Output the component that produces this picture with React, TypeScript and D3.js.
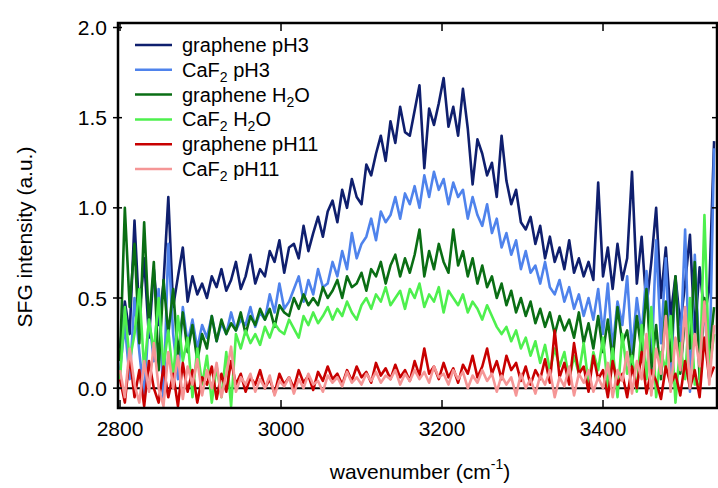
import React from "react";
import * as d3 from "d3";

// Wavenumber grid of the recorded spectra (cm^-1)
const WAVENUMBERS: number[] = d3.range(2800, 3542, 6);

const GRAPHENE_PH3 = [
  0.22, 0.48, 0.30, 0.93, 0.40, 0.72, 0.28, 0.66, 0.35, 0.58,
  1.06, 0.45, 0.62, 0.78, 0.48, 0.62, 0.52, 0.58, 0.50, 0.62,
  0.56, 0.66, 0.54, 0.60, 0.70, 0.55, 0.62, 0.74, 0.58, 0.66,
  0.62, 0.76, 0.70, 0.82, 0.64, 0.78, 0.80, 0.72, 0.90, 0.76,
  0.86, 0.95, 0.84, 0.98, 1.04, 0.92, 1.10, 1.00, 1.16, 1.06,
  1.02, 1.24, 1.18, 1.30, 1.40, 1.26, 1.48, 1.36, 1.56, 1.42,
  1.40, 1.54, 1.68, 1.22, 1.55, 1.46, 1.58, 1.72, 1.45, 1.56,
  1.40, 1.66, 1.44, 1.13, 1.38, 1.30, 1.18, 1.25, 1.06, 1.40,
  1.15, 1.02, 1.10, 0.92, 0.88, 0.95, 0.80, 0.90, 0.72, 0.84,
  0.70, 0.78, 0.66, 0.82, 0.64, 0.72, 0.62, 0.70, 0.60, 1.14,
  0.62, 0.78, 0.55, 0.80, 0.60, 0.72, 1.20, 0.58, 0.84, 0.45,
  0.70, 1.00, 0.50, 0.78, 0.40, 0.62, 0.35, 0.58, 0.85, 0.30,
  0.67, 0.40, 0.55, 1.37,
];

const CAF2_PH3 = [
  0.10, 0.35, 0.05, 0.50, 0.20, -0.05, 0.40, 0.15, 0.55, -0.08,
  0.80, 0.30, 0.05, 0.45, 0.25, 0.38, 0.22, 0.35, 0.28, 0.40,
  0.26, 0.36, 0.30, 0.42, 0.32, 0.38, 0.35, 0.45, 0.34, 0.42,
  0.38, 0.52, 0.42, 0.58, 0.44, 0.48, 0.55, 0.62, 0.48, 0.60,
  0.52, 0.66, 0.56, 0.58, 0.70, 0.62, 0.76, 0.66, 0.86, 0.72,
  0.80, 0.84, 0.94, 0.82, 0.98, 0.92, 0.96, 1.06, 0.94, 1.08,
  1.02, 1.12, 1.00, 1.18, 1.06, 1.20, 1.10, 1.16, 1.02, 1.14,
  1.06, 1.10, 0.94, 1.06, 0.96, 0.90, 1.02, 0.86, 0.94, 0.78,
  0.86, 0.74, 0.82, 0.66, 0.76, 0.64, 0.68, 0.58, 0.70, 0.56,
  0.52, 0.60, 0.48, 0.56, 0.44, 0.52, 0.40, 0.50, 0.38, 0.55,
  0.30, 0.58, 0.22, 0.48, 0.35, 0.62, 0.20, 0.50, 0.30, 0.65,
  0.10, 0.82, 0.25, 0.72, 0.05, 0.60, 0.20, 0.88, -0.02, 0.74,
  0.15, 0.45, 0.05, 1.33,
];

const GRAPHENE_H2O = [
  0.15, 1.00, 0.45, 0.80, 0.25, 0.92, 0.35, 0.70, 0.10, 0.60,
  0.30, 0.55, 0.18, 0.42, 0.20, 0.35, 0.15, 0.30, 0.22, 0.40,
  0.26, 0.38, 0.30, 0.36, 0.32, 0.42, 0.30, 0.40, 0.35, 0.44,
  0.38, 0.44, 0.34, 0.46, 0.42, 0.40, 0.50, 0.44, 0.52, 0.46,
  0.50, 0.46, 0.56, 0.50, 0.54, 0.60, 0.50, 0.62, 0.56, 0.58,
  0.64, 0.54, 0.66, 0.62, 0.70, 0.58, 0.68, 0.74, 0.62, 0.72,
  0.64, 0.74, 0.88, 0.62, 0.76, 0.66, 0.80, 0.70, 0.64, 0.88,
  0.68, 0.76, 0.62, 0.72, 0.58, 0.68, 0.56, 0.62, 0.50, 0.58,
  0.46, 0.54, 0.42, 0.50, 0.40, 0.48, 0.36, 0.44, 0.34, 0.42,
  0.30, 0.40, 0.32, 0.38, 0.28, 0.42, 0.25, 0.36, 0.22, 0.40,
  0.20, 0.38, 0.15, 0.45, 0.25, 0.32, 0.12, 0.40, 0.20, 0.55,
  0.10, 0.35, 0.05, 0.48, 0.15, 0.62, 0.08, 0.40, 0.22, 0.70,
  0.05, 0.50, 0.18, 0.45,
];

const CAF2_H2O = [
  0.05, 0.45, 0.15, 0.30, 0.55, 0.10, 0.38, 0.20, 0.50, 0.12,
  0.32, 0.05, 0.40, 0.15, 0.28, -0.05, 0.22, 0.02, 0.18, -0.08,
  0.12, -0.05, 0.20, -0.10, 0.30, 0.22, 0.32, 0.25, 0.30, 0.24,
  0.34, 0.28, 0.36, 0.32, 0.30, 0.38, 0.33, 0.28, 0.40, 0.35,
  0.42, 0.36, 0.40, 0.45, 0.38, 0.44, 0.40, 0.48, 0.42, 0.38,
  0.46, 0.50, 0.44, 0.52, 0.48, 0.56, 0.46, 0.50, 0.54, 0.44,
  0.55, 0.50, 0.58, 0.45, 0.52, 0.48, 0.56, 0.42, 0.54, 0.50,
  0.46, 0.52, 0.42, 0.48, 0.44, 0.38, 0.46, 0.40, 0.34, 0.30,
  0.34, 0.26, 0.32, 0.22, 0.28, 0.18, 0.26, 0.14, 0.24, 0.10,
  0.22, 0.12, 0.20, 0.05, 0.18, 0.08, 0.25, 0.02, 0.20, 0.10,
  0.28, 0.00, 0.22, -0.05, 0.30, 0.08, 0.18, -0.02, 0.35, 0.05,
  0.45, -0.05, 0.20, 0.10, 0.40, -0.08, 0.25, 0.05, 0.50, 0.02,
  0.02, 0.96, 0.10, 0.30,
];

const GRAPHENE_PH11 = [
  0.05, -0.08, 0.18, -0.05, 0.10, -0.10, 0.15, 0.00, -0.08, 0.12,
  -0.05, 0.08, -0.10, 0.14, -0.02, 0.10, -0.08, 0.06, 0.02, 0.12,
  -0.06, 0.08, -0.02, 0.15, 0.02, 0.08, -0.02, 0.06, 0.02, 0.10,
  0.00, 0.05, -0.03, 0.08, 0.02, 0.06, 0.00, 0.10, 0.03, 0.07,
  -0.01, 0.09, 0.04, 0.12, 0.05, 0.08, 0.02, 0.10, 0.04, 0.12,
  0.06, 0.09, 0.03, 0.14, 0.07, 0.11, 0.05, 0.13, 0.06, 0.10,
  0.04, 0.15, 0.07, 0.22, 0.08, 0.12, 0.05, 0.14, 0.06, 0.11,
  0.03, 0.13, 0.08, 0.18, 0.06, 0.12, 0.22, 0.08, 0.15, 0.05,
  0.18, 0.10, 0.14, 0.04, 0.12, 0.02, 0.10, 0.05, 0.16, 0.03,
  0.32, 0.06, 0.14, 0.02, 0.25, 0.08, 0.12, -0.02, 0.18, 0.05,
  0.10, -0.05, 0.15, 0.02, 0.08, -0.05, 0.12, 0.00, 0.20, -0.03,
  0.10, 0.04, -0.06, 0.12, 0.02, 0.08, -0.04, 0.15, 0.00, 0.10,
  -0.05, 0.28, 0.05, 0.12,
];

const CAF2_PH11 = [
  0.10, -0.05, 0.22, 0.02, -0.08, 0.15, -0.02, 0.25, 0.00, -0.10,
  0.20, 0.00, 0.18, -0.06, 0.12, 0.02, 0.16, -0.04, 0.10, 0.00,
  0.14, -0.05, 0.08, 0.23, -0.02, 0.06, 0.02, 0.08, -0.02, 0.05,
  0.00, 0.07, -0.04, 0.04, 0.01, 0.06, -0.03, 0.05, 0.00, 0.08,
  0.02, 0.04, -0.02, 0.07, 0.03, 0.06, 0.01, 0.09, 0.03, 0.06,
  0.02, 0.08, 0.04, 0.09, 0.03, 0.07, 0.05, 0.10, 0.02, 0.08,
  0.04, 0.10, 0.05, 0.09, 0.03, 0.12, 0.06, 0.08, 0.02, 0.10,
  0.05, 0.09, 0.00, 0.07, 0.03, 0.10, 0.04, 0.08, -0.02, 0.07,
  0.02, 0.06, -0.04, 0.08, 0.00, 0.05, -0.03, 0.07, 0.02, 0.10,
  -0.05, 0.06, 0.01, 0.12, -0.04, 0.08, 0.03, 0.10, -0.02, 0.06,
  0.00, 0.14, -0.05, 0.10, 0.04, 0.20, -0.03, 0.15, 0.05, 0.30,
  -0.04, 0.22, 0.08, 0.40, -0.02, 0.28, 0.10, 0.45, 0.00, 0.30,
  0.12, 0.48, 0.02, 0.35,
];

const X_TICKS = [2800, 3000, 3200, 3400];
const Y_TICKS = [0, 0.5, 1.0, 1.5, 2.0];

// Legend entries alternate plain text and subscripts
const SERIES = [
  { parts: ["graphene pH3"], color: "#0f1f6e", values: GRAPHENE_PH3 },
  { parts: ["CaF", "2", " pH3"], color: "#4f83ec", values: CAF2_PH3 },
  { parts: ["graphene H", "2", "O"], color: "#0a6e14", values: GRAPHENE_H2O },
  { parts: ["CaF", "2", " H", "2", "O"], color: "#4ef04e", values: CAF2_H2O },
  { parts: ["graphene pH11"], color: "#c80000", values: GRAPHENE_PH11 },
  { parts: ["CaF", "2", " pH11"], color: "#f59696", values: CAF2_PH11 },
];

const W = 718;
const H = 488;
const LEFT = 118;
const RIGHT = 717;
const TOP = 23;
const BOTTOM = 408;
const FONT = "'Liberation Sans', Arial, Helvetica, sans-serif";

export default function App() {
  const x = d3.scaleLinear().domain([2797.5, 3541.6]).range([LEFT, RIGHT]);
  const y = d3.scaleLinear().domain([-0.11, 2.025]).range([BOTTOM, TOP]);

  const line = d3
    .line<number>()
    .x((_, i) => x(WAVENUMBERS[i]))
    .y((d) => y(d));

  const renderLabel = (parts: string[]) =>
    parts.map((p, k) =>
      k % 2 === 1 ? (
        <tspan key={k} fontSize={14} dy={5}>
          {p}
        </tspan>
      ) : (
        <tspan key={k} dy={k > 0 ? -5 : 0}>
          {p}
        </tspan>
      )
    );

  return (
    <svg
      width={W}
      height={H}
      style={{ position: "absolute", left: 0, top: 0, background: "#fff" }}
      fontFamily={FONT}
    >
      <defs>
        <clipPath id="plot-area">
          <rect x={LEFT} y={TOP} width={RIGHT - LEFT} height={BOTTOM - TOP} />
        </clipPath>
      </defs>

      {/* zero reference line */}
      <line
        x1={LEFT}
        x2={RIGHT}
        y1={y(0)}
        y2={y(0)}
        stroke="#000"
        strokeWidth={2}
      />

      {/* spectra */}
      <g clipPath="url(#plot-area)">
        {SERIES.map((s) => (
          <path
            key={s.color}
            d={line(s.values) || ""}
            fill="none"
            stroke={s.color}
            strokeWidth={2.6}
            strokeLinejoin="round"
          />
        ))}
      </g>

      {/* frame */}
      <rect
        x={LEFT}
        y={TOP}
        width={RIGHT - LEFT}
        height={BOTTOM - TOP}
        fill="none"
        stroke="#000"
        strokeWidth={2.5}
      />

      {/* x ticks: inward on bottom and top */}
      {X_TICKS.map((t) => (
        <g key={t}>
          <line x1={x(t)} x2={x(t)} y1={BOTTOM} y2={BOTTOM - 8} stroke="#000" strokeWidth={1.5} />
          <line x1={x(t)} x2={x(t)} y1={TOP} y2={TOP + 8} stroke="#000" strokeWidth={1.5} />
          <text x={x(t)} y={436} textAnchor="middle" fontSize={21} fill="#000">
            {t}
          </text>
        </g>
      ))}

      {/* y ticks: crossing on the left, inward on the right */}
      {Y_TICKS.map((t) => (
        <g key={t}>
          <line x1={LEFT - 5} x2={LEFT + 4} y1={y(t)} y2={y(t)} stroke="#000" strokeWidth={1.5} />
          <line x1={RIGHT - 5} x2={RIGHT} y1={y(t)} y2={y(t)} stroke="#000" strokeWidth={1.5} />
          <text x={107} y={y(t) + 7.5} textAnchor="end" fontSize={21} fill="#000">
            {d3.format(".1f")(t)}
          </text>
        </g>
      ))}

      {/* axis titles */}
      <text
        transform="translate(32, 237) rotate(-90)"
        textAnchor="middle"
        fontSize={21}
        fill="#000"
      >
        SFG intensity (a.u.)
      </text>
      <text x={420} y={479} textAnchor="middle" fontSize={21} fill="#000">
        wavenumber (cm
        <tspan fontSize={14} dy={-10}>
          -1
        </tspan>
        <tspan dy={10}>)</tspan>
      </text>

      {/* legend */}
      {SERIES.map((s, i) => {
        const base = 52 + i * 24.8;
        return (
          <g key={s.color}>
            <line
              x1={135}
              x2={172}
              y1={base - 7}
              y2={base - 7}
              stroke={s.color}
              strokeWidth={2.5}
            />
            <text x={182} y={base} fontSize={20} fill="#000">
              {renderLabel(s.parts)}
            </text>
          </g>
        );
      })}
    </svg>
  );
}
